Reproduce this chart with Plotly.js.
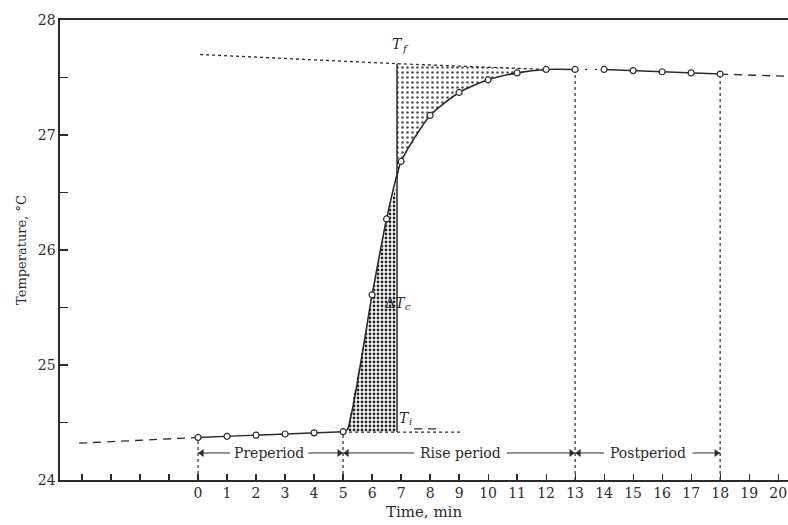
<!DOCTYPE html>
<html>
<head>
<meta charset="utf-8">
<script src="https://cdn.plot.ly/plotly-3.0.1.min.js"></script>
<style>html,body{margin:0;padding:0;background:#fff;}#chart{width:788px;height:525px;}</style>
</head>
<body>
<div id="chart"></div>
<script>
// ---- data ----
const preTime = [0, 1, 2, 3, 4, 5];
const preTemp = [24.37, 24.38, 24.39, 24.40, 24.41, 24.42];

const riseTime = [6, 6.5, 7, 8, 9, 10, 11, 12, 13];
const riseTemp = [25.61, 26.27, 26.77, 27.17, 27.37, 27.48, 27.54, 27.57, 27.57];

const postTime = [14, 15, 16, 17, 18];
const postTemp = [27.57, 27.56, 27.55, 27.54, 27.53];

// smooth rise curve (leaves the last preperiod point, bends up sharply)
const curveTime = [5, 5.15, 6, 6.5, 7, 8, 9, 10, 11, 12, 13];
const curveTemp = [24.42, 24.44, 25.61, 26.27, 26.77, 27.17, 27.37, 27.48, 27.54, 27.57, 27.57];

// extrapolations
const preExtTime = [-4.1, 0];
const preExtTemp = [24.32, 24.37];
const postExtTime = [18, 20.34];
const postExtTemp = [27.53, 27.51];
const gapTime = [13, 14];
const gapTemp = [27.57, 27.57];

// T_f (final) and T_i (initial) reference lines
const tfTime = [0.07, 6.86, 12];
const tfTemp = [27.70, 27.62, 27.57];
const tiTime = [5, 9.1];
const tiTemp = [24.417, 24.417];
const tiDashTime = [7.45, 8.3];
const tiDashTemp = [24.445, 24.445];

// vertical construction line at the equal-area time
const tcTime = [6.86, 6.86];
const tcTemp = [24.42, 27.62];

// stippled areas
const lowAreaTime = [5.15, 6, 6.5, 6.86, 6.86, 5.15];
const lowAreaTemp = [24.44, 25.61, 26.27, 26.59, 24.42, 24.42];
const upAreaTime = [6.86, 7, 8, 9, 10, 11, 12, 12, 6.86];
const upAreaTemp = [26.59, 26.77, 27.17, 27.37, 27.48, 27.54, 27.57, 27.57, 27.62];

// period boundaries
const boundaryTime = [0, 5, 13, 18];
const boundaryTemp = [24.37, 24.42, 27.57, 27.53];
const axisBase = 24;

const periodNames = ['Preperiod', 'Rise period', 'Postperiod'];
const periodStart = [0, 5, 13];
const periodEnd = [5, 13, 18];
const labelLeft = [1.1, 7.45, 14.0];
const labelRight = [3.8, 10.65, 17.05];
const periodY = 24.235;

// point labels: main symbol and its subscript
const symText = ['<i>T</i>', 'Δ<i>T</i>', '<i>T</i>'];
const subText = ['<i>f</i>', '<i>c</i>', '<i>i</i>'];
const symTime = [6.95, 7.05, 7.2];
const symTemp = [27.79, 25.54, 24.54];

const xTickVals = [0,1,2,3,4,5,6,7,8,9,10,11,12,13,14,15,16,17,18,19,20];
const xTickText = ['0','1','2','3','4','5','6','7','8','9','10','11','12','13','14','15','16','17','18','19','20'];
const xMinorVals = [-4,-3,-2,-1];
const yTickVals = [24, 25, 26, 27, 28];
const yTickText = ['24','25','26','27','28'];
const yMinorVals = [24.5, 25.5, 26.5, 27.5];

// ---- styles ----
const ink = '#2b2b2b';
const FONT = 'DejaVu Serif, Liberation Serif, serif';

const traces = [];

// stipple fills
traces.push({x: lowAreaTime, y: lowAreaTemp, mode: 'lines', fill: 'toself',
  fillcolor: 'rgba(70,70,70,0.28)', line: {width: 0},
  fillpattern: {shape: '.', fgcolor: '#222', bgcolor: 'rgba(0,0,0,0)', size: 4, solidity: 0.4},
  hoverinfo: 'skip'});
traces.push({x: upAreaTime, y: upAreaTemp, mode: 'lines', fill: 'toself',
  fillcolor: 'rgba(60,60,60,0.07)', line: {width: 0},
  fillpattern: {shape: '.', fgcolor: '#555', bgcolor: 'rgba(0,0,0,0)', size: 5, solidity: 0.22},
  hoverinfo: 'skip'});

// period boundary dotted verticals
boundaryTime.forEach((t, i) => {
  traces.push({x: [t, t], y: [axisBase, boundaryTemp[i]], mode: 'lines',
    line: {color: ink, width: 1.2, dash: 'dot'}, hoverinfo: 'skip'});
});

// extrapolations
traces.push({x: preExtTime, y: preExtTemp, mode: 'lines', line: {color: ink, width: 1.3, dash: '8px,6px'}});
traces.push({x: postExtTime, y: postExtTemp, mode: 'lines', line: {color: ink, width: 1.3, dash: '8px,6px'}});
traces.push({x: gapTime, y: gapTemp, mode: 'lines', line: {color: ink, width: 1.2, dash: '2px,8px'}});
traces.push({x: tfTime, y: tfTemp, mode: 'lines', line: {color: ink, width: 1.3, dash: 'dot'}});
traces.push({x: tiTime, y: tiTemp, mode: 'lines', line: {color: ink, width: 1.2, dash: 'dot'}});
traces.push({x: tiDashTime, y: tiDashTemp, mode: 'lines', line: {color: ink, width: 1.2, dash: '8px,6px'}});

// vertical construction line
traces.push({x: tcTime, y: tcTemp, mode: 'lines', line: {color: ink, width: 1.5}});

// main curves
traces.push({x: preTime, y: preTemp, mode: 'lines', line: {color: ink, width: 1.4}});
traces.push({x: curveTime, y: curveTemp, mode: 'lines', line: {color: ink, width: 1.6, shape: 'spline', smoothing: 0.6}});
traces.push({x: postTime, y: postTemp, mode: 'lines', line: {color: ink, width: 1.4}});

// measured points
const marker = {symbol: 'circle', size: 6, color: '#fff', line: {color: ink, width: 1.2}};
traces.push({x: preTime, y: preTemp, mode: 'markers', marker: marker});
traces.push({x: riseTime, y: riseTemp, mode: 'markers', marker: marker});
traces.push({x: postTime, y: postTemp, mode: 'markers', marker: marker});

// period arrows (line segments with triangular heads)
const headOffset = 0.13;
periodNames.forEach((name, i) => {
  traces.push({x: [periodStart[i], labelLeft[i]], y: [periodY, periodY], mode: 'lines',
    line: {color: ink, width: 1}});
  traces.push({x: [labelRight[i], periodEnd[i]], y: [periodY, periodY], mode: 'lines',
    line: {color: ink, width: 1}});
});
traces.push({x: periodStart.map(v => v + headOffset), y: periodStart.map(() => periodY), mode: 'markers',
  marker: {symbol: 'triangle-left', size: 7, color: ink, line: {width: 0}}});
traces.push({x: periodEnd.map(v => v - headOffset), y: periodEnd.map(() => periodY), mode: 'markers',
  marker: {symbol: 'triangle-right', size: 7, color: ink, line: {width: 0}}});

// annotations
const annotations = [];
periodNames.forEach((name, i) => {
  annotations.push({x: (labelLeft[i] + labelRight[i]) / 2, y: periodY, xref: 'x', yref: 'y',
    text: name, showarrow: false, font: {family: FONT, size: 14, color: ink}});
});
symText.forEach((txt, i) => {
  annotations.push({x: symTime[i], y: symTemp[i], xref: 'x', yref: 'y', text: txt,
    showarrow: false, xanchor: 'right', xshift: 3, borderpad: 0, borderwidth: 0,
    font: {family: FONT, size: 14, color: ink}});
  annotations.push({x: symTime[i], y: symTemp[i], xref: 'x', yref: 'y', text: subText[i],
    showarrow: false, xanchor: 'left', xshift: 2, yshift: -4, borderpad: 0, borderwidth: 0,
    font: {family: FONT, size: 10, color: ink}});
});

const layout = {
  width: 788, height: 525,
  margin: {l: 60, r: 0, t: 20, b: 45},
  paper_bgcolor: '#fff', plot_bgcolor: '#fff',
  showlegend: false,
  font: {family: FONT, color: ink},
  xaxis: {
    range: [-4.76, 20.34], showgrid: false, zeroline: false,
    showline: true, linecolor: ink, linewidth: 1.6, mirror: true,
    ticks: 'inside', ticklen: 6, tickwidth: 1.2, tickcolor: ink,
    tickmode: 'array', tickvals: xTickVals, ticktext: xTickText,
    minor: {tickmode: 'array', tickvals: xMinorVals, ticks: 'inside', ticklen: 6, tickwidth: 1.2, tickcolor: ink, showgrid: false},
    tickfont: {family: FONT, size: 14, color: ink},
    title: {text: 'Time, min', font: {family: FONT, size: 15, color: ink}, standoff: 6}
  },
  yaxis: {
    range: [24, 28], showgrid: false, zeroline: false,
    showline: true, linecolor: ink, linewidth: 1.6,
    ticks: 'inside', ticklen: 8, tickwidth: 1.4, tickcolor: ink,
    tickmode: 'array', tickvals: yTickVals, ticktext: yTickText,
    minor: {tickmode: 'array', tickvals: yMinorVals, ticks: 'inside', ticklen: 8, tickwidth: 1.4, tickcolor: ink, showgrid: false},
    tickfont: {family: FONT, size: 14, color: ink},
    title: {text: 'Temperature, °C', font: {family: FONT, size: 13, color: ink}, standoff: 8}
  },
  annotations: annotations
};

Plotly.newPlot('chart', traces, layout, {staticPlot: true, displayModeBar: false});
</script>
</body>
</html>
